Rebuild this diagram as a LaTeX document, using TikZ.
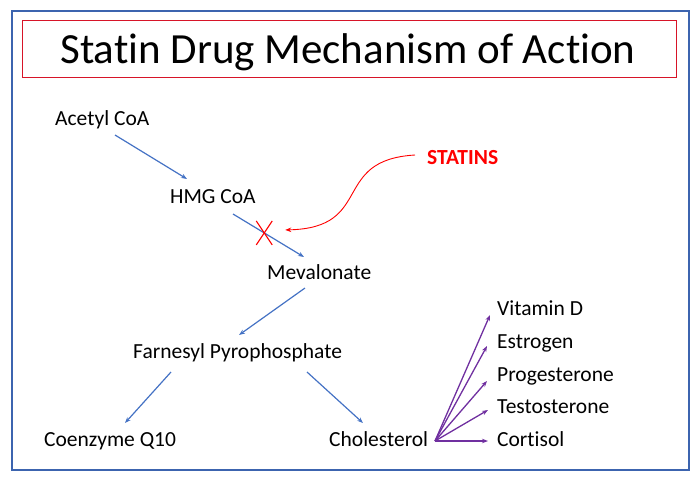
\documentclass[tikz,border=0pt]{standalone}
\usepackage{fontspec}
\setmainfont{Carlito}[Ligatures=NoCommon]
\usetikzlibrary{arrows.meta}
\definecolor{arrblue}{RGB}{68,114,196}
\definecolor{framblue}{RGB}{60,100,175}
\definecolor{arrpurple}{RGB}{112,48,160}
\definecolor{boxred}{RGB}{215,20,40}
\definecolor{statred}{RGB}{255,0,0}
\tikzset{
  lbl/.style={anchor=base west, inner sep=0pt, font=\fontsize{21.5}{26}\selectfont},
  arr/.style={draw=arrblue, line width=1.2pt, -{Stealth[length=6pt,width=4.5pt]}},
  parr/.style={draw=arrpurple, line width=1.3pt, -{Stealth[length=6pt,width=4.5pt]}},
  sarr/.style={draw=statred, line width=0.9pt, -{Stealth[length=6pt,width=4.5pt]}},
}
\begin{document}
\begin{tikzpicture}[x=1pt,y=-1pt]
\useasboundingbox (0,0) rectangle (697,483);
\draw[framblue, line width=1.4pt] (12,11) rectangle (689,470);
\draw[boxred, line width=1pt] (22,20) rectangle (676,77);
\node[anchor=base, inner sep=0pt, font=\fontsize{43}{50}\selectfont] (title) at (348,63) {Statin Drug Mechanism of Action};

\node[lbl] (acetyl) at (55,125) {Acetyl CoA};
\node[lbl] (hmg) at (170,203) {HMG CoA};
\node[lbl] (mev) at (267,279) {Mevalonate};
\node[lbl, font=\fontsize{21.5}{26}\selectfont\bfseries, text=statred] (statins) at (427,164) {STATINS};
\node[lbl] (far) at (133,358) {Farnesyl Pyrophosphate};
\node[lbl] (coq) at (44,446) {Coenzyme Q10};
\node[lbl] (chol) at (329,446) {Cholesterol};
\node[lbl] (vitd) at (497,315) {Vitamin D};
\node[lbl] (estr) at (497,348) {Estrogen};
\node[lbl] (prog) at (497,381) {Progesterone};
\node[lbl] (test) at (497,413) {Testosterone};
\node[lbl] (cort) at (497,446) {Cortisol};

\draw[arr] ([shift={(60,10)}]acetyl.base west) -- ([shift={(17,-24)}]hmg.base west);
\draw[arr] ([shift={(63,11)}]hmg.base west) -- coordinate[pos=0.44] (blk) ([shift={(37,-22)}]mev.base west);
\draw[statred, line width=1.1pt] ([shift={(-8,-12)}]blk) -- ([shift={(8,12)}]blk);
\draw[statred, line width=1.1pt] ([shift={(8,-12)}]blk) -- ([shift={(-8,12)}]blk);
\draw[sarr] ([shift={(-12,-9)}]statins.base west) .. controls (330,160) and (375,228) .. ([shift={(21,-3)}]blk);
\draw[arr] ([shift={(38,9)}]mev.base west) -- ([shift={(106,-23)}]far.base west);
\draw[arr] ([shift={(38,14)}]far.base west) -- ([shift={(81,-23)}]coq.base west);
\draw[arr] ([shift={(174,14)}]far.base west) -- ([shift={(34,-23)}]chol.base west);

\coordinate (src) at ([shift={(106,-5)}]chol.base west);
\draw[parr] (src) -- ([shift={(-7,0)}]vitd.base west);
\draw[parr] (src) -- ([shift={(-10,-2)}]estr.base west);
\draw[parr] (src) -- ([shift={(-10,0)}]prog.base west);
\draw[parr] (src) -- ([shift={(-9,-3)}]test.base west);
\draw[parr] (src) -- ([shift={(-9,-5)}]cort.base west);
\end{tikzpicture}
\end{document}
